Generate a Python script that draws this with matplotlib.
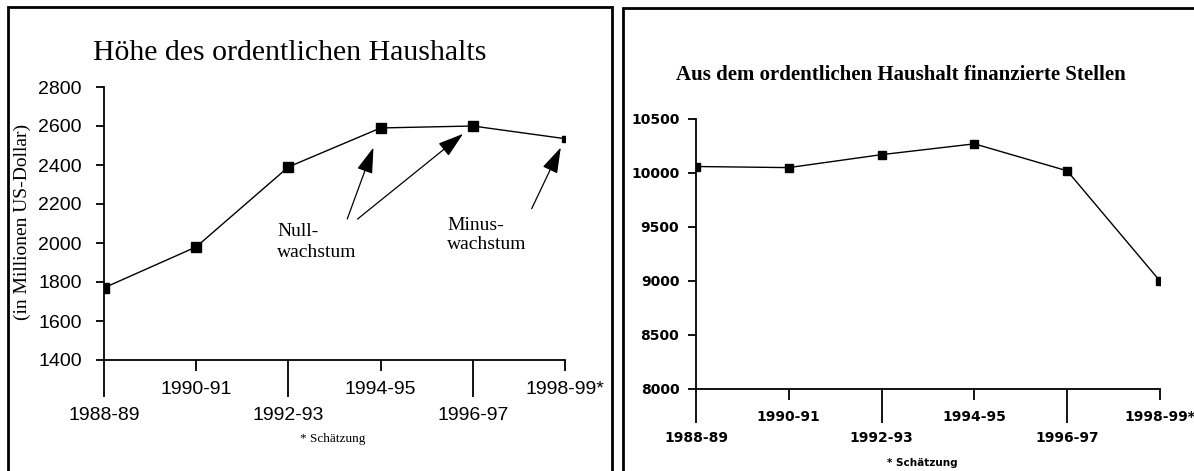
import matplotlib
matplotlib.use('Agg')
import matplotlib.pyplot as plt
from matplotlib.patches import Rectangle

# data
periods = ['1988-89', '1990-91', '1992-93', '1994-95', '1996-97', '1998-99*']
budget = [1770, 1980, 2390, 2590, 2600, 2535]      # Mio. US-Dollar
posts = [10060, 10050, 10170, 10270, 10020, 9000]  # Stellen

W, H = 1194, 471
fig = plt.figure(figsize=(W / 100, H / 100), dpi=100)


def box(x0, y0, x1, y1):
    # pixel box -> figure fraction
    return [x0 / W, 1 - y1 / H, (x1 - x0) / W, (y1 - y0) / H]


# panel frames
fig.add_artist(Rectangle((8 / W, -0.1), (612 - 8) / W, 1.1 - 7 / H,
                         transform=fig.transFigure, fill=False, lw=2, ec='black'))
fig.add_artist(Rectangle((623 / W, -0.1), 1.0, 1.1 - 8 / H,
                         transform=fig.transFigure, fill=False, lw=2, ec='black'))

ax1 = fig.add_axes(box(104, 87, 565, 360))
ax2 = fig.add_axes(box(696, 119, 1160, 389))

x = list(range(len(periods)))


def style(ax, font, size, long_len, pad_major, pad_minor, ypad):
    for s in ['top', 'right']:
        ax.spines[s].set_visible(False)
    for s in ['left', 'bottom']:
        ax.spines[s].set_linewidth(1.3)
    ax.set_xlim(0, len(periods) - 1)
    ax.set_xticks(x[0::2])
    ax.set_xticklabels(periods[0::2], **font, fontsize=size)
    ax.set_xticks(x[1::2], minor=True)
    ax.set_xticklabels(periods[1::2], minor=True, **font, fontsize=size)
    ax.tick_params(axis='x', which='major', length=long_len, width=1.3, pad=pad_major)
    ax.tick_params(axis='x', which='minor', length=8, width=1.3, pad=pad_minor)
    ax.tick_params(axis='y', length=6, width=1.3, pad=ypad)
    for t in ax.get_yticklabels():
        t.set(**font, fontsize=size)


# left panel
ax1.plot(x[:-1], budget[:-1], color='black', lw=1, marker='s', ms=7)
ax1.plot(x[-2:], budget[-2:], color='black', lw=1)
ax1.plot(x[-1], budget[-1], color='black', marker='s', ms=5)
ax1.set_ylim(1400, 2800)
ax1.set_yticks(range(1400, 2801, 200))
sans = dict(family='Liberation Sans')
style(ax1, sans, 14, 26.6, 7, 7, 10)

fig.text(290 / W, 1 - 53 / H, 'Höhe des ordentlichen Haushalts',
         family='Liberation Serif', fontsize=21.5, ha='center', va='center')
fig.text(22 / W, 1 - 222 / H, '(in Millionen US-Dollar)', family='Liberation Serif',
         fontsize=14, rotation=90, ha='center', va='center')
fig.text(333 / W, 1 - 439 / H, '* Schätzung', family='Liberation Serif',
         fontsize=9.5, ha='center', va='center')

# arrows pointing at the zero / negative growth points
arrow = dict(arrowstyle='-|>,head_length=0.8,head_width=0.25', color='black',
             lw=0.9, mutation_scale=20, shrinkA=0)
ax1.annotate('', xy=(x[3], budget[3]), xytext=(-24, -65.5), textcoords='offset points',
             arrowprops=dict(arrow, shrinkB=15))
ax1.annotate('', xy=(x[4], budget[4]), xytext=(-83, -67), textcoords='offset points',
             arrowprops=dict(arrow, shrinkB=9))
ax1.annotate('', xy=(x[5], budget[5]), xytext=(-24, -50.4), textcoords='offset points',
             arrowprops=dict(arrow, shrinkB=7))
ax1.text(1.876, 2005, 'Null-\nwachstum', family='Liberation Serif', fontsize=14,
         ha='left', va='center', linespacing=1.35)
ax1.text(3.72, 2041, 'Minus-\nwachstum', family='Liberation Serif', fontsize=14,
         ha='left', va='center', linespacing=1.15)

# right panel
narrow = dict(family='DejaVu Sans', fontweight='bold')
ax2.plot(x, posts, color='black', lw=1, marker='s', ms=6)
ax2.set_ylim(8000, 10500)
ax2.set_yticks(range(8000, 10501, 500))
style(ax2, narrow, 10, 24.5, 6, 7, 6)

fig.text(901 / W, 1 - 75 / H, 'Aus dem ordentlichen Haushalt finanzierte Stellen',
         family='Liberation Serif', fontweight='bold',
         fontsize=15, ha='center', va='center')
fig.text(922 / W, 1 - 463 / H, '* Schätzung', **narrow, fontsize=7.5,
         ha='center', va='center')

fig.savefig('out.png', dpi=100)
